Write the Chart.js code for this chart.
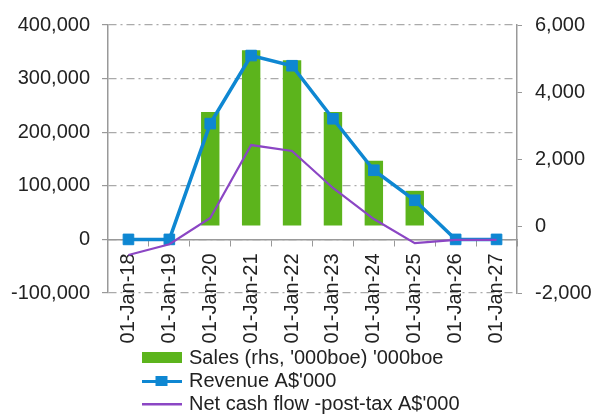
<!DOCTYPE html>
<html>
<head>
<meta charset="utf-8">
<script src="https://cdn.jsdelivr.net/npm/chart.js@4/dist/chart.umd.min.js"></script>
<style>
  html, body { margin: 0; padding: 0; background: #fff; }
  #wrap { width: 595px; height: 414px; }
</style>
</head>
<body>
<div id="wrap"><canvas id="chart" width="595" height="414"></canvas></div>
<script>
  // data
  const years = ['01-Jan-18', '01-Jan-19', '01-Jan-20', '01-Jan-21', '01-Jan-22',
                 '01-Jan-23', '01-Jan-24', '01-Jan-25', '01-Jan-26', '01-Jan-27'];
  const sales = [null, null, 3400, 5250, 4950, 3400, 1950, 1050, null, null];   // rhs, '000boe
  const revenue = [0, 0, 216000, 343000, 324000, 225000, 129000, 73000, 0, 0];
  const netCash = [-29000, -9000, 40000, 176000, 165000, 96000, 38000, -7000, -1000, -1000];

  const GREEN = '#5cb41c';
  const BLUE = '#0e87d2';
  const PURPLE = '#8b46c4';
  const FONT = { family: 'Liberation Sans, Arial, sans-serif', size: 20 };

  // legend icons: filled box, line with square, plain line
  function icon(draw) {
    const c = document.createElement('canvas');
    c.width = 40; c.height = 12;
    draw(c.getContext('2d'));
    return c;
  }
  const salesIcon = icon(g => { g.fillStyle = GREEN; g.fillRect(0, 0, 40, 11); });
  const revIcon = icon(g => {
    g.fillStyle = BLUE;
    g.fillRect(0, 5, 40, 3);
    g.fillRect(14, 1, 12, 10);
  });
  const netIcon = icon(g => { g.fillStyle = PURPLE; g.fillRect(0, 5, 40, 2.5); });
  const icons = [salesIcon, revIcon, netIcon];

  // legend sits under the rotated date labels, a bit right of the axis
  const moveLegend = {
    id: 'moveLegend',
    afterLayout(chart) {
      const lg = chart.legend;
      const h = lg.height;
      lg.top = chart.chartArea.bottom + 52;
      lg.bottom = lg.top + h;
      lg.left += 33; lg.right += 33;
    }
  };

  new Chart(document.getElementById('chart'), {
    type: 'bar',
    data: {
      labels: years,
      datasets: [
        {
          type: 'bar',
          label: "Sales (rhs, '000boe) '000boe",
          data: sales,
          yAxisID: 'y1',
          backgroundColor: GREEN,
          barPercentage: 0.45,
          categoryPercentage: 1,
          order: 2
        },
        {
          type: 'line',
          label: "Revenue A$'000",
          data: revenue,
          yAxisID: 'y',
          borderColor: BLUE,
          backgroundColor: BLUE,
          borderWidth: 3.5,
          pointStyle: 'rect',
          pointRadius: 7.5,
          pointBorderWidth: 1,
          tension: 0,
          order: 1
        },
        {
          type: 'line',
          label: "Net cash flow -post-tax A$'000",
          data: netCash,
          yAxisID: 'y',
          borderColor: PURPLE,
          backgroundColor: PURPLE,
          borderWidth: 2.2,
          pointRadius: 0,
          tension: 0,
          order: 0
        }
      ]
    },
    options: {
      responsive: false,
      animation: false,
      locale: 'en-US',
      layout: { padding: { top: 18, bottom: 42 } },
      plugins: {
        tooltip: { enabled: false },
        legend: {
          position: 'bottom',
          align: 'start',
          fullSize: false,
          labels: {
            usePointStyle: true,
            pointStyleWidth: 35,
            padding: 3,
            color: '#222',
            font: FONT,
            sort: (a, b) => a.datasetIndex - b.datasetIndex,
            generateLabels(chart) {
              return chart.data.datasets.map((ds, i) => ({
                text: ds.label,
                pointStyle: icons[i],
                fillStyle: ds.backgroundColor,
                strokeStyle: ds.borderColor,
                lineWidth: 0,
                fontColor: '#222',
                datasetIndex: i
              }));
            }
          }
        }
      },
      scales: {
        x: {
          position: { y: 0 },
          offset: true,
          grid: { display: true, drawOnChartArea: false, offset: true, tickLength: 6, color: '#999' },
          border: { color: '#999', width: 1.5 },
          ticks: { minRotation: 90, maxRotation: 90, autoSkip: false, padding: 8, color: '#222', font: FONT }
        },
        y: {
          position: 'left',
          min: -100000,
          max: 400000,
          afterFit: s => { s.width = 108; },
          ticks: { stepSize: 100000, padding: 12, color: '#222', font: FONT },
          grid: { color: '#aaa', lineWidth: 1.2, tickLength: 6, tickColor: '#999', tickBorderDash: [] },
          border: { color: '#999', width: 1.5, dash: [8, 4, 2, 4] }
        },
        y1: {
          position: 'right',
          min: -2000,
          max: 6000,
          afterFit: s => { s.width = 78; },
          ticks: { stepSize: 2000, padding: 13, color: '#222', font: FONT },
          grid: { drawOnChartArea: false, tickLength: 5, color: '#999' },
          border: { color: '#999', width: 1.5 }
        }
      }
    },
    plugins: [moveLegend]
  });
</script>
</body>
</html>
